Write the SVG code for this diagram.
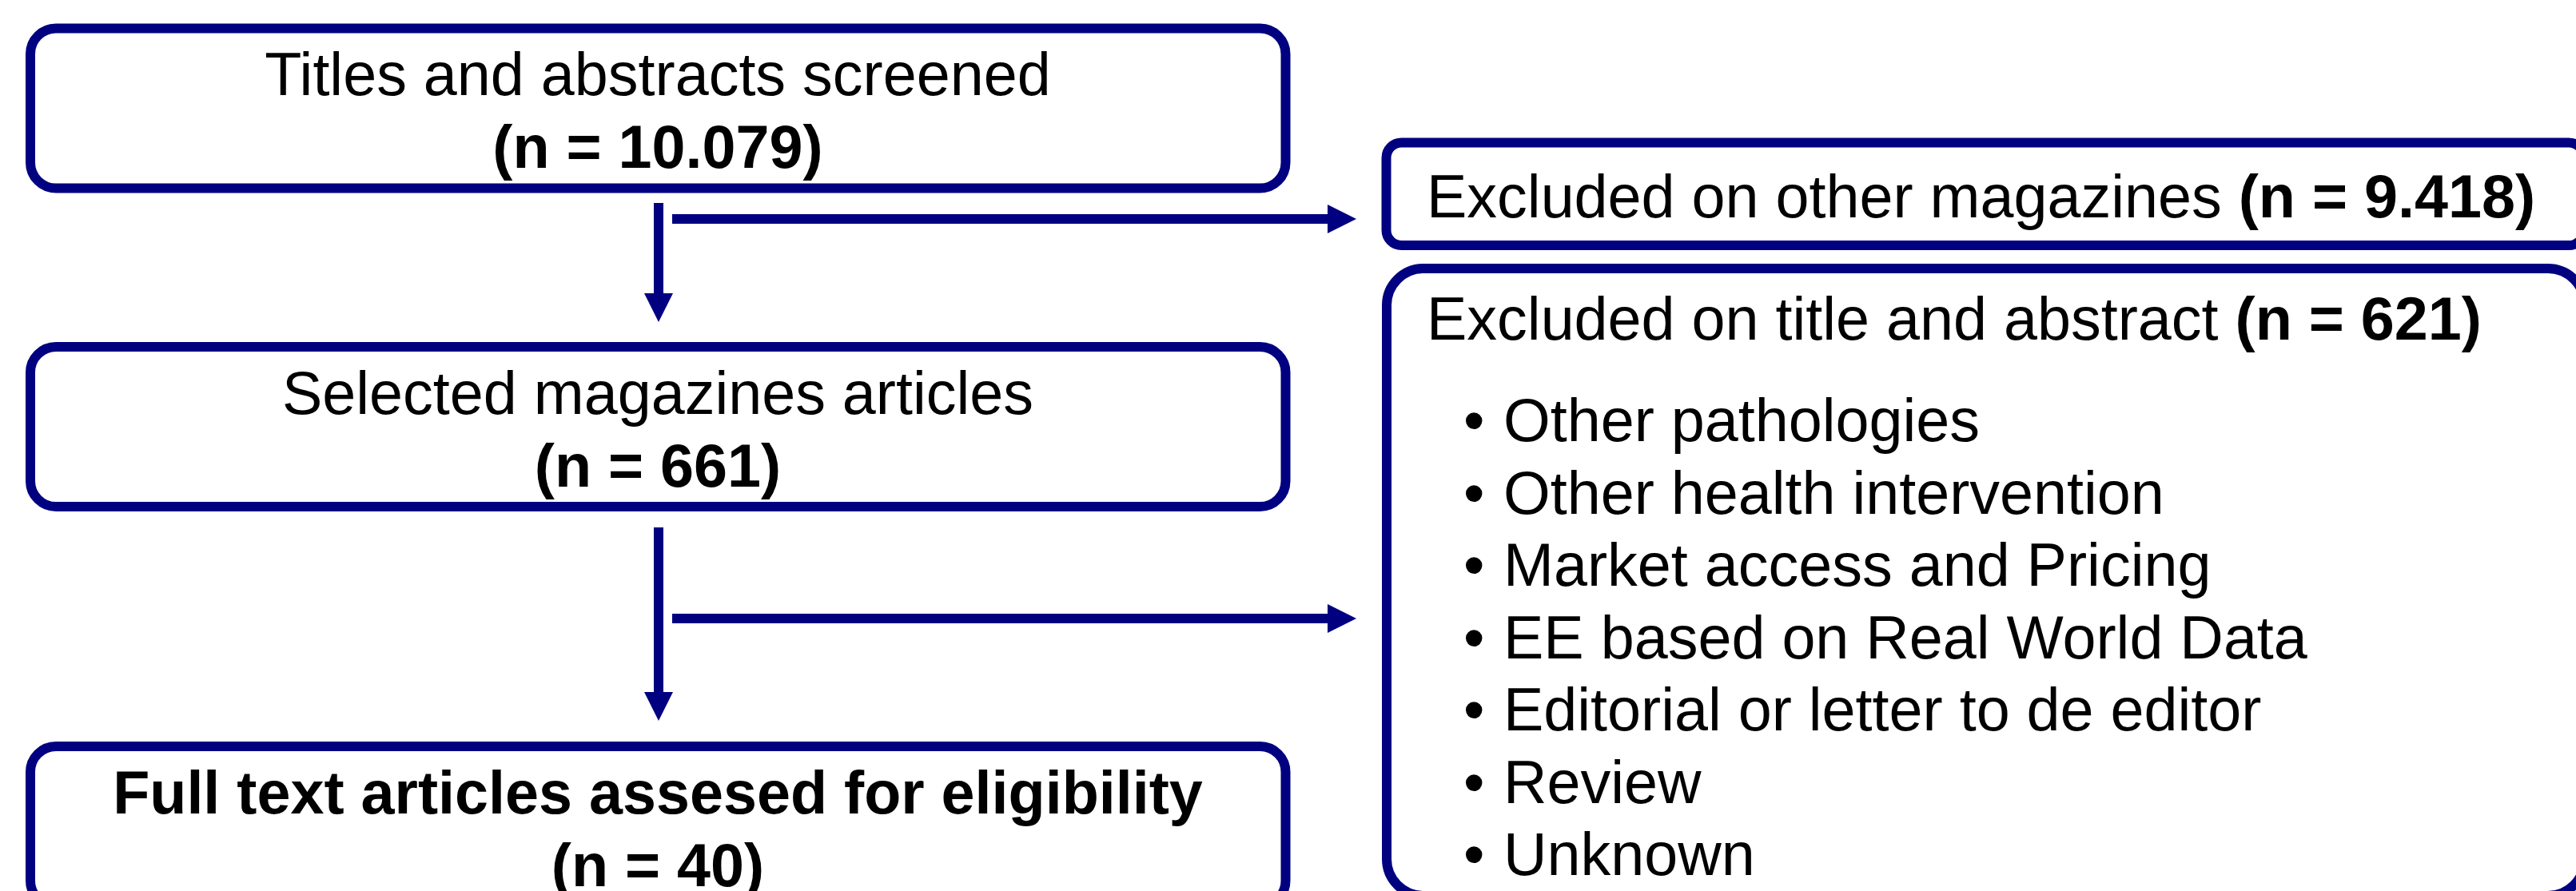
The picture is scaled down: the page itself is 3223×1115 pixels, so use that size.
<svg xmlns="http://www.w3.org/2000/svg" width="3223" height="1115" viewBox="0 0 3223 1115">
  <defs>
    <style>
      .box { fill: #ffffff; stroke: #000080; stroke-width: 12; }
      .link { fill: none; stroke: #000080; stroke-width: 12; stroke-linecap: butt; }
      text { font-family: "Liberation Sans", Arial, sans-serif; font-size: 75.5px; fill: #000000; }
      .c { text-anchor: middle; }
      .b { font-weight: bold; }
    </style>
    <marker id="head" viewBox="0 0 36 36" refX="0" refY="18" markerWidth="36" markerHeight="36" markerUnits="userSpaceOnUse" orient="auto">
      <path d="M0,0 L36,18 L0,36 Z" fill="#000080"/>
    </marker>
  </defs>
  <rect width="3223" height="1115" fill="#ffffff"/>

  <!-- main flow boxes -->
  <g id="screened">
    <rect class="box" x="38" y="35.5" width="1570.5" height="200" rx="32" ry="32"/>
    <text class="c" x="823" y="119">Titles and abstracts screened</text>
    <text class="c b" x="823" y="210">(n = 10.079)</text>
  </g>
  <g id="selected">
    <rect class="box" x="38" y="434" width="1570.5" height="200" rx="32" ry="32"/>
    <text class="c" x="823" y="517.5">Selected magazines articles</text>
    <text class="c b" x="823" y="608.5">(n = 661)</text>
  </g>
  <g id="fulltext">
    <rect class="box" x="38" y="934" width="1570.5" height="200" rx="32" ry="32"/>
    <text class="c b" x="823" y="1017.5">Full text articles assesed for eligibility</text>
    <text class="c b" x="823" y="1108.5">(n = 40)</text>
  </g>

  <!-- exclusion boxes -->
  <g id="excluded-magazines">
    <rect class="box" x="1734.5" y="178.5" width="1498.5" height="128.5" rx="19" ry="19"/>
    <text x="1785" y="272">Excluded on other magazines <tspan class="b">(n = 9.418)</tspan></text>
  </g>
  <g id="excluded-title">
    <rect class="box" x="1735" y="336" width="1499" height="785" rx="46" ry="46"/>
    <text x="1785" y="425">Excluded on title and abstract <tspan class="b">(n = 621)</tspan></text>
    <text x="1831" y="552">•</text><text x="1881" y="552">Other pathologies</text>
    <text x="1831" y="642.5">•</text><text x="1881" y="642.5">Other health intervention</text>
    <text x="1831" y="733">•</text><text x="1881" y="733">Market access and Pricing</text>
    <text x="1831" y="823.5">•</text><text x="1881" y="823.5">EE based on Real World Data</text>
    <text x="1831" y="914">•</text><text x="1881" y="914">Editorial or letter to de editor</text>
    <text x="1831" y="1004.5">•</text><text x="1881" y="1004.5">Review</text>
    <text x="1831" y="1095">•</text><text x="1881" y="1095">Unknown</text>
  </g>

  <!-- connectors -->
  <g id="connectors">
    <line class="link" x1="824" y1="254" x2="824" y2="367" marker-end="url(#head)"/>
    <line class="link" x1="841" y1="274" x2="1661" y2="274" marker-end="url(#head)"/>
    <line class="link" x1="824" y1="660" x2="824" y2="866" marker-end="url(#head)"/>
    <line class="link" x1="841" y1="774" x2="1661" y2="774" marker-end="url(#head)"/>
  </g>
</svg>
